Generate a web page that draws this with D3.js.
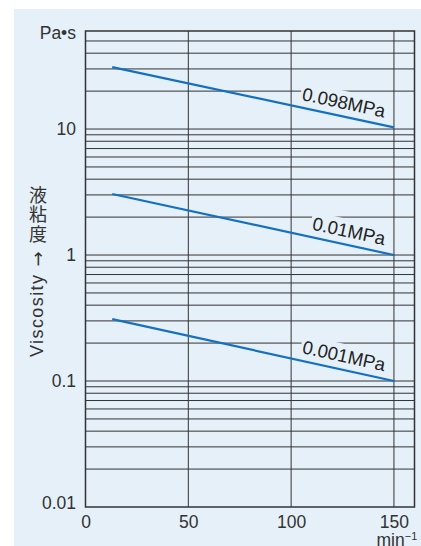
<!DOCTYPE html>
<html><head><meta charset="utf-8">
<script src="https://cdn.jsdelivr.net/npm/d3@7"></script>
<style>html,body{margin:0;padding:0;background:#fff;} svg{display:block;}</style>
</head><body>
<svg id="c" width="421" height="546"></svg>
<script>
// ---- data ----
const speed = [13, 150];                 // min^-1
const visc098 = [31, 10.3];              // Pa·s at 0.098MPa
const visc001 = [3.05, 1.0];             // Pa·s at 0.01MPa
const visc0001 = [0.31, 0.1];            // Pa·s at 0.001MPa
const seriesNames = ["0.098MPa", "0.01MPa", "0.001MPa"];
const xTicks = [0, 50, 100, 150];
const yTicks = [0.01, 0.1, 1, 10];
const yTickLabels = ["0.01", "0.1", "1", "10"];
const yUnit = "Pa•s";
const xUnit = "min";
const yTitleCJK = "液粘度";
const yTitle = "Viscosity";

// ---- layout ----
const FONT = "'Liberation Sans', Arial, Helvetica, sans-serif";
const TXT = "#333";
const BG = "#e5f0f8";
const svg = d3.select("#c");
svg.append("rect").attr("x", 14).attr("y", 9).attr("width", 407).attr("height", 537).attr("fill", BG);

const x = d3.scaleLinear().domain([0, 160]).range([85.5, 414.5]);
const y = d3.scaleLog().domain([0.01, 60]).range([507, 31]);

// grid
const grid = svg.append("g").attr("stroke", "#333").attr("stroke-width", 1);
grid.selectAll("line.h").data(y.ticks().filter(v => v > 0.01 && v < 60)).join("line")
  .attr("class", "h").attr("x1", x(0)).attr("x2", x(160)).attr("y1", d => y(d)).attr("y2", d => y(d));
grid.selectAll("line.v").data(xTicks.filter(v => v > 0)).join("line")
  .attr("class", "v").attr("y1", y(0.01)).attr("y2", y(60)).attr("x1", d => x(d)).attr("x2", d => x(d));

const bgLayer = svg.append("g");
const lineLayer = svg.append("g");
const textLayer = svg.append("g");

// frame
svg.append("rect").attr("x", x(0)).attr("y", y(60)).attr("width", x(160) - x(0)).attr("height", y(0.01) - y(60))
  .attr("fill", "none").attr("stroke", "#333").attr("stroke-width", 1.5);

const allSeries = [visc098, visc001, visc0001];
const line = d3.line().x((d, i) => x(speed[i])).y(d => y(d));
allSeries.forEach((vals, k) => {
  lineLayer.append("path").datum(vals).attr("d", line)
    .attr("fill", "none").attr("stroke", "#1470c0").attr("stroke-width", 2.2);
  const x0 = x(speed[0]), y0 = y(vals[0]), x1 = x(speed[1]), y1 = y(vals[1]);
  const ang = Math.atan2(y1 - y0, x1 - x0) * 180 / Math.PI;
  const g = textLayer.append("g").attr("transform", `translate(${x1},${y1}) rotate(${ang})`);
  const t = g.append("text").attr("x", -12).attr("y", -7.5).attr("text-anchor", "end")
    .attr("font-family", FONT).attr("font-size", 18.5).attr("fill", "#222").text(seriesNames[k]);
  const bb = t.node().getBBox();
  bgLayer.append("rect").attr("transform", `translate(${x1},${y1}) rotate(${ang})`)
    .attr("x", bb.x - 2).attr("y", bb.y - 1).attr("width", bb.width + 4).attr("height", bb.height * 0.8)
    .attr("fill", BG);
});

// y axis labels
const ya = svg.append("g").attr("transform", `translate(${x(0)},0)`)
  .call(d3.axisLeft(y).tickValues(yTicks).tickFormat((d, i) => yTickLabels[i]).tickSize(0).tickPadding(9.5));
ya.select(".domain").remove();
ya.selectAll("text").attr("font-family", FONT).attr("font-size", 17.5).attr("fill", TXT)
  .attr("transform", d => d === 0.01 ? "translate(0,-4)" : null);

// x axis labels
const xa = svg.append("g").attr("transform", `translate(0,${y(0.01)})`)
  .call(d3.axisBottom(x).tickValues(xTicks).tickSize(0).tickPadding(9));
xa.select(".domain").remove();
xa.selectAll("text").attr("font-family", FONT).attr("font-size", 17.5).attr("fill", TXT);

// units
svg.append("text").attr("x", 76).attr("y", 39).attr("text-anchor", "end")
  .attr("font-family", FONT).attr("font-size", 17.5).attr("fill", TXT).text(yUnit);
const mu = svg.append("text").attr("x", 376.5).attr("y", 546)
  .attr("font-family", FONT).attr("font-size", 17.5).attr("fill", TXT).text(xUnit);
mu.append("tspan").attr("dy", -6).attr("font-size", 11).text("−1");

// y title (vertical CJK + rotated English)
svg.append("text").attr("x", 38).attr("y", 186)
  .attr("style", "writing-mode: vertical-rl; text-orientation: upright; letter-spacing: 1.5px")
  .attr("font-family", "'Noto Sans CJK JP', 'Noto Sans CJK SC', sans-serif").attr("font-size", 18)
  .attr("fill", TXT).text(yTitleCJK);
svg.append("text").attr("transform", "translate(43.5,266.5) rotate(-90)")
  .attr("font-family", "'DejaVu Sans', sans-serif").attr("font-size", 18).attr("fill", TXT).text("→");
svg.append("text").attr("transform", "translate(43,357) rotate(-90)")
  .attr("font-family", FONT).attr("font-size", 18).attr("fill", TXT)
  .attr("textLength", 82).attr("lengthAdjust", "spacing").text(yTitle);
</script>
</body></html>
